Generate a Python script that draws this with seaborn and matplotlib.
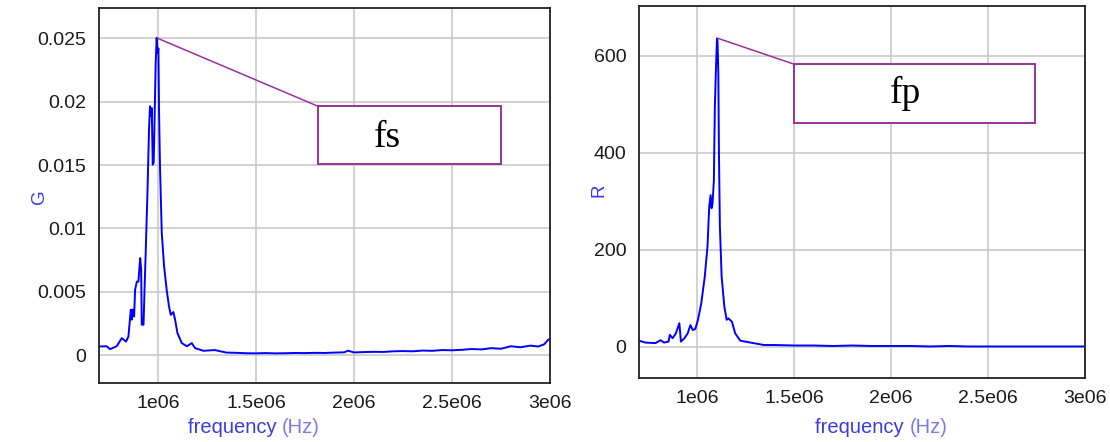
import matplotlib
matplotlib.use("Agg")
import matplotlib.pyplot as plt
import matplotlib.patches as mpatches
import seaborn as sns
import pandas as pd
import numpy as np

# ---------------- data ----------------
freq_g = [0.700e6, 0.739e6, 0.756e6, 0.790e6, 0.816e6, 0.838e6, 0.850e6, 0.862e6,
          0.867e6, 0.872e6, 0.879e6, 0.884e6, 0.893e6, 0.901e6, 0.910e6, 0.915e6,
          0.918e6, 0.927e6, 0.932e6, 0.938e6, 0.947e6, 0.955e6, 0.960e6, 0.966e6,
          0.969e6, 0.974e6, 0.979e6, 0.984e6, 0.989e6, 0.994e6, 0.999e6, 1.003e6,
          1.006e6, 1.011e6, 1.020e6, 1.032e6, 1.045e6, 1.057e6, 1.066e6, 1.079e6,
          1.088e6, 1.100e6, 1.122e6, 1.148e6, 1.173e6, 1.190e6, 1.233e6, 1.290e6,
          1.350e6, 1.400e6, 1.450e6, 1.500e6, 1.550e6, 1.600e6, 1.650e6, 1.700e6,
          1.750e6, 1.800e6, 1.850e6, 1.900e6, 1.950e6, 1.970e6, 2.000e6, 2.050e6,
          2.100e6, 2.150e6, 2.200e6, 2.250e6, 2.300e6, 2.350e6, 2.400e6, 2.450e6,
          2.500e6, 2.550e6, 2.600e6, 2.650e6, 2.700e6, 2.750e6, 2.800e6, 2.850e6,
          2.900e6, 2.940e6, 2.970e6, 2.990e6, 3.000e6]
g_vals = [0.00068, 0.00070, 0.00047, 0.00070, 0.00134, 0.00107, 0.00147, 0.00358,
          0.00280, 0.00360, 0.00305, 0.00516, 0.00580, 0.00580, 0.00766, 0.00674,
          0.00240, 0.00240, 0.00510, 0.00806, 0.01280, 0.01780, 0.01964, 0.01885,
          0.01950, 0.01503, 0.01520, 0.01910, 0.02306, 0.02504, 0.02385, 0.02420,
          0.01937, 0.01490, 0.00964, 0.00700, 0.00516, 0.00384, 0.00318, 0.00340,
          0.00280, 0.00174, 0.00095, 0.00070, 0.00095, 0.00055, 0.00034, 0.00040,
          0.00020, 0.00018, 0.00015, 0.00014, 0.00016, 0.00014, 0.00015, 0.00017,
          0.00016, 0.00018, 0.00017, 0.00020, 0.00022, 0.00035, 0.00021, 0.00024,
          0.00026, 0.00025, 0.00030, 0.00032, 0.00030, 0.00036, 0.00034, 0.00040,
          0.00038, 0.00042, 0.00048, 0.00045, 0.00055, 0.00050, 0.00070, 0.00062,
          0.00075, 0.00068, 0.00085, 0.00120, 0.00130]

freq_r = [0.700e6, 0.733e6, 0.785e6, 0.811e6, 0.829e6, 0.852e6, 0.859e6, 0.873e6,
          0.890e6, 0.908e6, 0.916e6, 0.934e6, 0.951e6, 0.965e6, 0.977e6, 0.990e6,
          1.004e6, 1.021e6, 1.039e6, 1.053e6, 1.062e6, 1.069e6, 1.074e6, 1.079e6,
          1.086e6, 1.091e6, 1.096e6, 1.102e6, 1.105e6, 1.109e6, 1.112e6, 1.117e6,
          1.126e6, 1.140e6, 1.152e6, 1.161e6, 1.179e6, 1.196e6, 1.222e6, 1.275e6,
          1.345e6, 1.400e6, 1.500e6, 1.600e6, 1.700e6, 1.800e6, 1.900e6, 2.000e6,
          2.100e6, 2.200e6, 2.300e6, 2.400e6, 2.500e6, 2.600e6, 2.700e6, 2.800e6,
          2.900e6, 3.000e6]
r_vals = [13, 9, 8, 14, 9, 11, 25, 18,
          28, 49, 11, 18, 28, 45, 35, 37,
          56, 90, 145, 207, 289, 313, 286, 295,
          344, 495, 564, 636, 630, 564, 406, 248,
          145, 83, 56, 59, 52, 28, 13, 9,
          4, 4, 3, 3, 2, 3, 2, 2,
          2, 1, 2, 1, 1, 1, 1, 1,
          1, 1]

x_ticks = [1e6, 1.5e6, 2e6, 2.5e6, 3e6]
x_tick_labels = ["1e06", "1.5e06", "2e06", "2.5e06", "3e06"]
g_ticks = [0, 0.005, 0.01, 0.015, 0.02, 0.025]
g_tick_labels = ["0", "0.005", "0.01", "0.015", "0.02", "0.025"]
r_ticks = [0, 200, 400, 600]
r_tick_labels = ["0", "200", "400", "600"]

df_g = pd.DataFrame({"frequency": freq_g, "G": g_vals})
df_r = pd.DataFrame({"frequency": freq_r, "R": r_vals})

# ---------------- styling ----------------
sns.set_style("white")
plt.rcParams["font.family"] = ["Liberation Sans", "DejaVu Sans"]

BLUE = "#0000FF"
PURPLE = "#9B309B"
LABEL_BLUE = "#3A3AE8"
LABEL_LIGHT = "#7A7AEA"
TICK_COLOR = "#1a1a1a"

fig = plt.figure(figsize=(11.1, 4.42), dpi=100)
ax1 = fig.add_axes([0.0892, 0.1335, 0.4063, 0.8485])
ax2 = fig.add_axes([0.5757, 0.1448, 0.4018, 0.8416])


def style_axis(ax, yticks, ylabels):
    ax.set_xticks(x_ticks)
    ax.set_xticklabels(x_tick_labels)
    ax.set_yticks(yticks)
    ax.set_yticklabels(ylabels)
    ax.grid(True, color="#c6c6c6", linewidth=1.1)
    ax.set_axisbelow(True)
    for s in ax.spines.values():
        s.set_color("#222222")
        s.set_linewidth(1.3)
        s.set_visible(True)
    ax.tick_params(axis="both", direction="out", length=6, width=1.2,
                   color="#222222", labelsize=14, labelcolor=TICK_COLOR, pad=3)
    ax.set_xlabel("")
    ax.set_ylabel("")


sns.lineplot(data=df_g, x="frequency", y="G", ax=ax1, color=BLUE, linewidth=1.4,
             estimator=None, sort=False)
ax1.set_xlim(0.7e6, 3.0e6)
ax1.set_ylim(-0.0022, 0.0274)
style_axis(ax1, g_ticks, g_tick_labels)

sns.lineplot(data=df_r, x="frequency", y="R", ax=ax2, color=BLUE, linewidth=1.4,
             estimator=None, sort=False)
ax2.set_xlim(0.7e6, 3.0e6)
ax2.set_ylim(-64, 703)
style_axis(ax2, r_ticks, r_tick_labels)

# y labels
ax1.text(-0.132, 0.496, "G", transform=ax1.transAxes, rotation=90, color=LABEL_BLUE,
         fontsize=13.5, ha="center", va="center")
ax2.text(-0.09, 0.505, "R", transform=ax2.transAxes, rotation=90, color=LABEL_BLUE,
         fontsize=13.5, ha="center", va="center")

# x labels (two-tone)
for ax, x0, y0 in [(ax1, 0.197, -0.12), (ax2, 0.395, -0.134)]:
    t1 = ax.text(x0, y0, "frequency ", transform=ax.transAxes, color=LABEL_BLUE,
                 fontsize=14.5, ha="left", va="center")
    ax.annotate("(Hz)", xy=(1, 0), xycoords=t1, color=LABEL_LIGHT, fontsize=14.5,
                ha="left", va="bottom")

# callout boxes
def callout(ax, peak, box_xy, box_w, box_h, label, text_xy):
    ax.plot([peak[0], box_xy[0]], [peak[1], box_xy[1] + box_h], color=PURPLE,
            linewidth=1.1, zorder=4)
    rect = mpatches.Rectangle(box_xy, box_w, box_h, facecolor="white",
                              edgecolor=PURPLE, linewidth=1.4, zorder=5)
    ax.add_patch(rect)
    ax.text(text_xy[0], text_xy[1], label, fontsize=27, color="black",
            family=["Liberation Serif", "DejaVu Serif"], ha="center",
            va="baseline", zorder=6)


callout(ax1, (1.0e6, 0.025), (1.817e6, 0.01509), 2.751e6 - 1.817e6,
        0.01964 - 0.01509, "fs", (2.169e6, 0.01645))
callout(ax2, (1.102e6, 637), (1.500e6, 462.5), 2.741e6 - 1.500e6,
        583 - 462.5, "fp", (2.073e6, 503))

fig.savefig("out.png", dpi=100)
